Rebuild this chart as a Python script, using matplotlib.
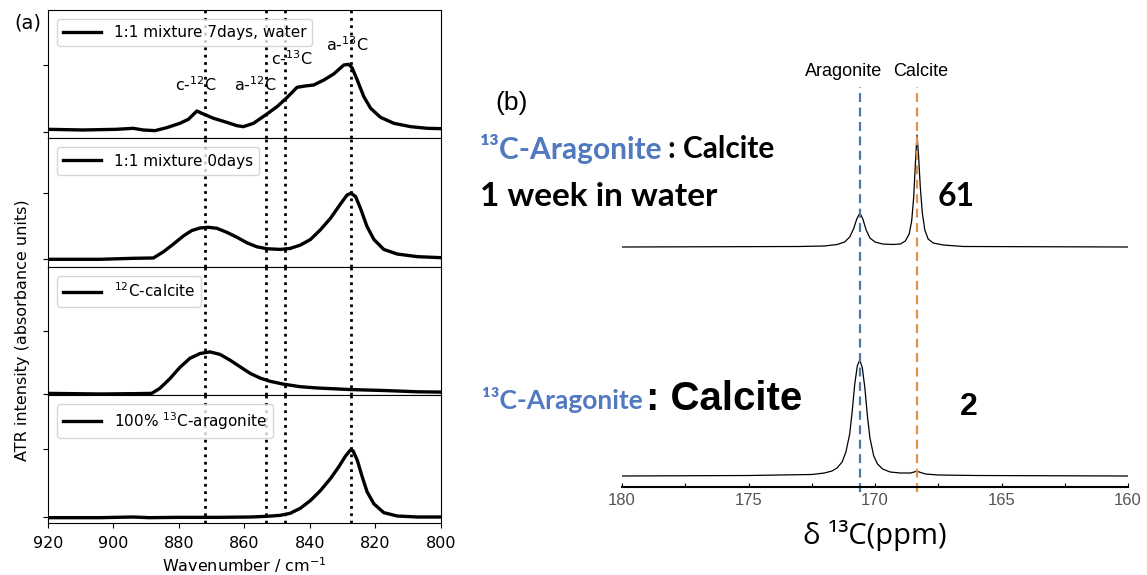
import numpy as np
import matplotlib
matplotlib.use('Agg')
import matplotlib.pyplot as plt

W, H = 1147, 575

# ATR spectra, panel (a)
wn_7d = [920, 909.3, 899.1, 894.0, 890.9, 887.3, 883.7, 879.7, 877.1, 874.5, 873.0, 869.4,
         865.4, 862.3, 860.3, 857.2, 853.1, 850.0, 847.0, 843.9, 841.4, 838.8, 835.7, 832.7,
         829.6, 828.1, 827.1, 825.5, 823.5, 821.4, 818.4, 814.3, 809.2, 804.1, 800]
ab_7d = [0.035, 0.025, 0.035, 0.05, 0.025, 0.015, 0.06, 0.125, 0.185, 0.31, 0.275, 0.20,
         0.14, 0.09, 0.075, 0.125, 0.265, 0.375, 0.51, 0.665, 0.685, 0.70, 0.775, 0.865,
         1.0, 1.01, 0.96, 0.775, 0.525, 0.35, 0.215, 0.125, 0.075, 0.05, 0.045]

wn_0d = [920, 904.2, 894.0, 887.8, 884.7, 881.7, 878.6, 876.1, 873.5, 871.0, 868.4, 865.4,
         862.3, 859.2, 856.2, 853.1, 849.0, 846.0, 842.9, 839.8, 836.8, 833.7, 830.6, 828.6,
         827.4, 826.0, 824.5, 822.5, 820.4, 817.4, 813.3, 807.1, 800]
ab_0d = [0.0, 0.0, 0.015, 0.02, 0.115, 0.23, 0.355, 0.435, 0.475, 0.485, 0.47, 0.41,
         0.335, 0.25, 0.19, 0.16, 0.15, 0.165, 0.215, 0.30, 0.445, 0.62, 0.84, 0.975,
         1.0, 0.95, 0.77, 0.495, 0.30, 0.15, 0.08, 0.04, 0.025]

wn_cal = [920, 904.2, 894.0, 888.3, 885.8, 882.7, 879.7, 876.6, 873.5, 870.5, 867.4, 864.4,
          861.3, 858.2, 855.1, 852.1, 848.0, 842.9, 837.8, 827.6, 817.4, 807.1, 800]
ab_cal = [0.01, 0.0, 0.005, 0.01, 0.09, 0.245, 0.42, 0.565, 0.64, 0.665, 0.625, 0.535,
          0.43, 0.325, 0.25, 0.20, 0.155, 0.115, 0.095, 0.07, 0.055, 0.035, 0.03]

wn_ara = [920, 904.2, 894.0, 888.9, 880.7, 868.4, 858.2, 853.1, 849.0, 846.0, 842.9, 839.8,
          836.8, 833.7, 831.1, 829.1, 827.6, 826.8, 825.5, 824.0, 822.5, 820.4, 817.4, 813.3,
          807.1, 800]
ab_ara = [-0.015, -0.015, -0.005, -0.015, -0.01, -0.01, -0.005, 0.005, 0.02, 0.05, 0.125, 0.24,
          0.385, 0.565, 0.745, 0.90, 0.99, 0.98, 0.84, 0.595, 0.37, 0.19, 0.06, 0.01,
          -0.005, -0.005]

labels_a = ['1:1 mixture 7days, water', '1:1 mixture 0days',
            '$^{12}$C-calcite', '100% $^{13}$C-aragonite']
band_pos = [872, 853.5, 847.5, 827.5]
band_names = ['c-$^{12}$C', 'a-$^{12}$C', 'c-$^{13}$C', 'a-$^{13}$C']
wn_ticks = [920, 900, 880, 860, 840, 820, 800]

# 13C NMR spectra, panel (b) (intensity above baseline, arbitrary units)
ppm_water = [180.0, 173.0, 172.0, 171.5, 171.2, 171.0, 170.85, 170.72, 170.6, 170.48,
             170.35, 170.2, 170.0, 169.7, 169.3, 169.0, 168.8, 168.65, 168.55, 168.47,
             168.40, 168.34, 168.28, 168.21, 168.13, 168.03, 167.9, 167.7, 167.3, 166.5, 160.0]
int_water = [0, 0.5, 1, 2.5, 5, 10, 18, 28, 34, 28,
             17, 9, 5, 3, 2.5, 3, 6, 13, 26, 50,
             85, 112, 92, 60, 34, 17, 8, 4, 2, 0.5, 0]
ppm_fresh = [180.0, 175.0, 172.5, 172.0, 171.7, 171.5, 171.3, 171.15, 171.0, 170.9,
             170.8, 170.7, 170.6, 170.5, 170.4, 170.3, 170.2, 170.05, 169.9, 169.7,
             169.4, 169.0, 168.6, 168.45, 168.35, 168.2, 168.0, 167.5, 166.0, 160.0]
int_fresh = [0, 0.5, 1.5, 3, 5, 8, 14, 24, 42, 65,
             92, 110, 116, 108, 88, 60, 38, 20, 12, 7,
             4, 3, 3, 4, 5, 3.5, 2, 1, 0.5, 0]
ppm_ticks = [180, 175, 170, 165, 160]
ppm_aragonite = 170.6
ppm_calcite = 168.35
ratios = ['61', '2']

plt.rcParams['font.family'] = 'DejaVu Sans'
fig = plt.figure(figsize=(W / 100, H / 100), dpi=100)


def box(x0, y0, x1, y1):
    # pixel box (top-left origin) -> figure fraction rect
    return [x0 / W, 1 - y1 / H, (x1 - x0) / W, (y1 - y0) / H]


def fxy(x, y):
    return x / W, 1 - y / H


# ---- panel (a)
series = [(wn_7d, ab_7d), (wn_0d, ab_0d), (wn_cal, ab_cal), (wn_ara, ab_ara)]
tops = [10, 138.25, 266.5, 394.75]
ylims = [(-0.099, 1.825), (-0.109, 1.834), (-0.012, 2.014), (-0.094, 1.812)]
axes_a = []
for i, (x, y) in enumerate(series):
    ax = fig.add_axes(box(48, tops[i], 440.7, tops[i] + 128.25))
    ax.plot(x, y, color='black', lw=2.4, label=labels_a[i], solid_joinstyle='round')
    for b in band_pos:
        ax.axvline(b, color='black', ls=':', lw=2)
    ax.set_xlim(920, 800)
    ax.set_ylim(*ylims[i])
    ax.set_yticks([0, 1])
    ax.set_yticklabels([])
    ax.legend(loc='upper left', fontsize=11, handlelength=2.5, borderaxespad=0.6,
              fancybox=True, framealpha=0.8)
    if i < 3:
        ax.set_xticks([])
    else:
        ax.set_xticks(wn_ticks)
        ax.set_xticklabels([str(t) for t in wn_ticks])
        ax.tick_params(axis='x', labelsize=11.5, pad=6)
        ax.set_xlabel('Wavenumber / cm$^{-1}$', fontsize=11.5, labelpad=3)
    axes_a.append(ax)

axes_a[2].set_ylabel('ATR intensity (absorbance units)', fontsize=11.5, labelpad=6)

# band annotations in the top panel
ann_xy = [(874.8, 0.70), (856.5, 0.70), (845.6, 1.10), (828.5, 1.30)]
for name, (tx, ty) in zip(band_names, ann_xy):
    axes_a[0].text(tx, ty, name, ha='center', va='center', fontsize=11.5)

fig.text(*fxy(14, 23), '(a)', fontsize=14, va='center', ha='left')

# ---- panel (b)
axb = fig.add_axes(box(622, 60, 1128, 487))
base_low, base_up = 11, 240
axb.plot(ppm_fresh, np.array(int_fresh) + base_low, color='black', lw=0.9)
axb.plot(ppm_water, np.array(int_water) + base_up, color='black', lw=0.9)
axb.vlines(ppm_aragonite, -5, 400, colors='#4f78a8', linestyles=(0, (4, 2.5)), lw=1.6,
           clip_on=False)
axb.vlines(ppm_calcite, -5, 400, colors='#e29248', linestyles=(0, (4, 2.5)), lw=1.6,
           clip_on=False)
axb.set_xlim(180, 160)
axb.set_ylim(0, 427)
for s in ['top', 'left', 'right']:
    axb.spines[s].set_visible(False)
axb.spines['bottom'].set_linewidth(1.5)
axb.set_yticks([])
axb.set_xticks(ppm_ticks)
axb.set_xticks(np.arange(160, 180.1, 2.5), minor=True)
axb.tick_params(axis='x', which='both', direction='in', length=3, width=0.8, pad=4,
                labelsize=12, labelcolor='#555555')
for lab in axb.get_xticklabels():
    lab.set_family('Liberation Sans')
axb.set_xlabel('δ ¹³C(ppm)', fontsize=21, family='Open Sans', labelpad=9)

fig.text(*fxy(844, 71), 'Aragonite', fontsize=13, family='Liberation Sans',
         ha='center', va='center')
fig.text(*fxy(921, 71), 'Calcite', fontsize=13, family='Liberation Sans',
         ha='center', va='center')
fig.text(*fxy(495, 103), '(b)', fontsize=19, family='Liberation Sans', va='center')

blue = '#5079c0'
fig.text(*fxy(480, 149), '¹³C-Aragonite', fontsize=21.5, family='Lato',
         weight='bold', color=blue, va='center')
fig.text(*fxy(668, 149), ': Calcite', fontsize=21.5, family='Lato', weight='bold',
         color='black', va='center')
fig.text(*fxy(480, 196), '1 week in water', fontsize=24, family='Lato', weight='bold',
         va='center')
fig.text(*fxy(938, 197), ratios[0], fontsize=23, family='Lato', weight='bold', va='center')

fig.text(*fxy(482, 400), '¹³C-Aragonite', fontsize=19, family='Lato',
         weight='bold', color=blue, va='center')
fig.text(*fxy(646, 399), ': Calcite', fontsize=29, family='Liberation Sans',
         weight='bold', color='black', va='center')
fig.text(*fxy(960, 407), ratios[1], fontsize=23, family='Liberation Sans',
         weight='bold', va='center')

fig.savefig('out.png', dpi=100)
